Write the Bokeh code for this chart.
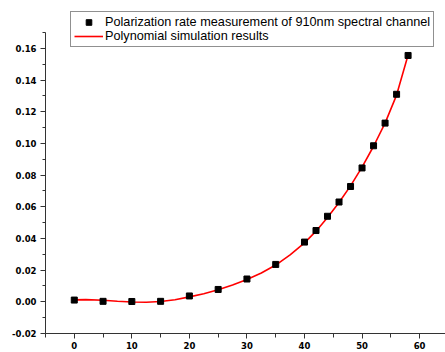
from bokeh.plotting import figure
from bokeh.models import (ColumnDataSource, Range1d, SingleIntervalTicker,
                          PrintfTickFormatter, Legend, LegendItem)
from bokeh.embed import file_html
from bokeh.resources import INLINE

# Measured polarization rate of the 910nm channel
angle = [0, 5, 10, 15, 20, 25, 30, 35, 40, 42, 44, 46, 48, 50, 52, 54, 56, 58]
rate = [0.0011, 0.0003, 0.0002, 0.0003, 0.0037, 0.0078, 0.0144, 0.0236, 0.0377,
        0.0450, 0.0540, 0.0630, 0.0728, 0.0845, 0.0985, 0.1128, 0.1310, 0.1555]

# Polynomial simulation curve
fit_angle = [0, 2, 5, 7.5, 10, 12.5, 15, 17.5, 20, 22.5, 25, 27.5, 30, 32.5, 35,
             37.5, 40, 42, 44, 46, 48, 50, 52, 54, 56, 58]
fit_rate = [0.0012, 0.0014, 0.0010, 0.0004, -0.0001, -0.0003, 0.0002, 0.0013,
            0.0031, 0.0051, 0.0076, 0.0106, 0.0141, 0.0182, 0.0232, 0.0296,
            0.0372, 0.0446, 0.0532, 0.0627, 0.0732, 0.0850, 0.0982, 0.1128,
            0.1305, 0.1558]

x_ticks_step = 10
y_ticks_step = 0.02
y_axis_span = (-0.02, 0.17)

pts = ColumnDataSource(dict(x=angle, y=rate))
fit = ColumnDataSource(dict(x=fit_angle, y=fit_rate))

# frame reaches the top edge so the legend can sit above the axis end
p = figure(width=445, height=352, output_backend="svg", toolbar_location=None,
           x_range=Range1d(-5, 64.5), y_range=Range1d(-0.02, 0.1902),
           min_border_left=45, min_border_right=0, min_border_top=0,
           min_border_bottom=19)
p.outline_line_color = None
p.xgrid.visible = False
p.ygrid.visible = False
p.background_fill_color = "white"
p.border_fill_color = "white"

line_r = p.line("x", "y", source=fit, line_color="#ff0000", line_width=1.6)
pts_r = p.scatter("x", "y", source=pts, marker="square", size=6,
                  fill_color="black", line_color="black")

for ax in (p.xaxis[0], p.yaxis[0]):
    ax.axis_line_color = "#333333"
    ax.major_tick_line_color = "#333333"
    ax.minor_tick_line_color = "#333333"
    ax.major_tick_in = 0
    ax.minor_tick_in = 0
    ax.major_label_text_font = "DejaVu Sans"
    ax.major_label_text_font_style = "bold"
    ax.major_label_text_font_size = "8.5px"
    ax.major_label_text_color = "black"

p.xaxis.ticker = SingleIntervalTicker(interval=x_ticks_step, num_minor_ticks=2)
p.xaxis.major_tick_out = 5
p.xaxis.minor_tick_out = 4
p.xaxis.major_label_standoff = 3

p.yaxis.ticker = SingleIntervalTicker(interval=y_ticks_step, num_minor_ticks=2)
p.yaxis.bounds = y_axis_span
p.yaxis.formatter = PrintfTickFormatter(format="%.2f")
p.yaxis.major_tick_out = 5
p.yaxis.minor_tick_out = 3
p.yaxis.major_label_standoff = 4

legend = Legend(items=[
    LegendItem(label="Polarization rate measurement of 910nm spectral channel",
               renderers=[pts_r]),
    LegendItem(label="Polynomial simulation results", renderers=[line_r]),
], location=(25, 286))
legend.label_text_font = "Liberation Sans"
legend.label_text_font_size = "12.7px"
legend.label_text_color = "black"
legend.border_line_color = "#222222"
legend.border_line_width = 1
legend.background_fill_color = "white"
legend.background_fill_alpha = 1
legend.padding = 3
legend.spacing = 0
legend.margin = 0
legend.glyph_width = 29
legend.glyph_height = 14
legend.label_height = 14
legend.label_standoff = 2
p.add_layout(legend, "center")

open("out.html", "w").write(file_html(p, INLINE))
